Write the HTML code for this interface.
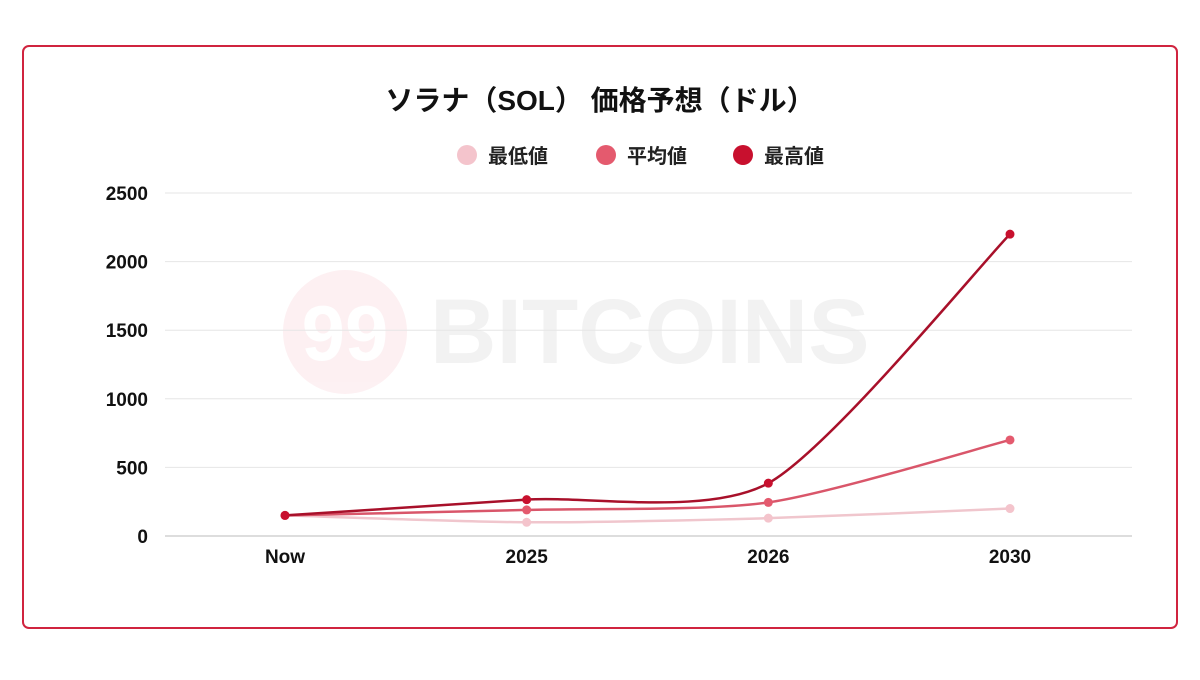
<!DOCTYPE html>
<html><head><meta charset="utf-8"><style>
body{margin:0;width:1200px;height:675px;background:#fff;overflow:hidden;font-family:"Liberation Sans","Noto Sans CJK JP",sans-serif}
</style></head><body>
<svg id="c" width="1200" height="675">
<rect x="23" y="46" width="1154" height="582" rx="6" fill="#fff" stroke="#d0243f" stroke-width="2"/>
<g opacity="0.06">
<circle cx="345" cy="332" r="62" fill="#e0102f"/>
<text x="345" y="360" text-anchor="middle" font-size="78" font-weight="bold" fill="#fff" font-family="Liberation Sans,sans-serif">99</text>
<text x="430" y="363" font-size="92" font-weight="bold" fill="#333" font-family="Liberation Sans,sans-serif">BITCOINS</text>
</g>
<text x="600" y="110" text-anchor="middle" font-size="28" font-weight="bold" fill="#111">ソラナ（SOL） 価格予想（ドル）</text>
<g id="legend"></g>
<g id="grid"></g>
<g id="series"></g>
</svg>
<script>
const categories=["Now","2025","2026","2030"];
const lowValues=[150,100,130,200];
const avgValues=[150,190,245,700];
const highValues=[150,265,385,2200];
const yTicks=[0,500,1000,1500,2000,2500];
const seriesNames=["最低値","平均値","最高値"];
const NS="http://www.w3.org/2000/svg";
const X0=165,X1=1132,Y0=536,Y1=193;
const xs=i=>285+i*((1010-285)/3);
const ys=v=>Y0-(v/2500)*(Y0-Y1);
function mk(t,a,p){const e=document.createElementNS(NS,t);for(const k in a)e.setAttribute(k,a[k]);p.appendChild(e);return e;}
const grid=document.getElementById('grid');
yTicks.forEach(t=>{
 const l=mk('line',{x1:X0,x2:X1,y1:ys(t),y2:ys(t),stroke:t===0?'#bbb':'#e6e6e6','stroke-width':1},grid);
 
 
 const tx=mk('text',{x:148,y:ys(t)+7,'text-anchor':'end','font-size':19,'font-weight':'bold',fill:'#111'},grid);
 tx.textContent=t;
 
 
});
categories.forEach((c,i)=>{
 const tx=mk('text',{x:xs(i),y:563,'text-anchor':'middle','font-size':19,'font-weight':'bold',fill:'#111'},grid);
 tx.textContent=c;
 
 
});
const colors=["#f4c4cc","#e45a6e","#c8102e"];
const lineColors=["#f0c6cd","#d9566a","#a8102a"];
const data=[lowValues,avgValues,highValues];
const sg=document.getElementById('series');
function pathFor(vals){
 const p=vals.map((v,i)=>[xs(i),ys(v)]);const t=0.25;
 let d='M'+p[0][0]+','+p[0][1];
 for(let i=0;i<p.length-1;i++){
  const p0=p[i-1]||p[i],p1=p[i],p2=p[i+1],p3=p[i+2]||p2;
  const c1=[p1[0]+(p2[0]-p0[0])*t/2,p1[1]+(p2[1]-p0[1])*t/2];
  const c2=[p2[0]-(p3[0]-p1[0])*t/2,p2[1]-(p3[1]-p1[1])*t/2];
  d+=` C${c1[0]},${c1[1]} ${c2[0]},${c2[1]} ${p2[0]},${p2[1]}`;
 }
 return d;
}
data.forEach((vals,s)=>{
 const g=mk('g',{},sg);
 
 
 const path=mk('path',{d:pathFor(vals),fill:'none',stroke:lineColors[s],'stroke-width':2.5},g);
 
 
 vals.forEach((v,i)=>{
  const c=mk('circle',{cx:xs(i),cy:ys(v),r:4.5,fill:colors[s]},g);
  
  
 });
});
const lg=document.getElementById('legend');
const lx=[467,606,743];
seriesNames.forEach((n,i)=>{
 const g=mk('g',{},lg);
 
 
 mk('circle',{cx:lx[i],cy:155,r:10,fill:colors[i]},g);
 const t=mk('text',{x:lx[i]+21,y:163,'font-size':20,'font-weight':'bold',fill:'#222'},g);
 t.textContent=n;
});
</script>
</body></html>
